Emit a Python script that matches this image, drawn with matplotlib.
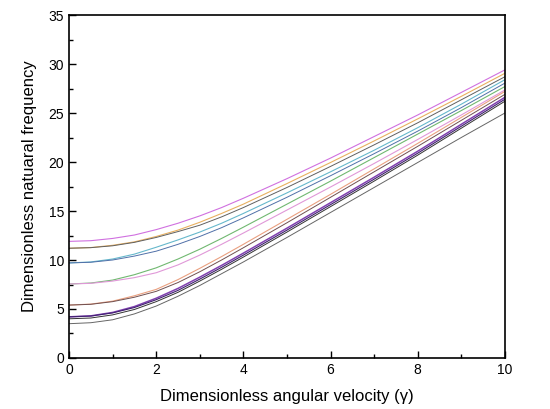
import matplotlib
matplotlib.use('Agg')
import matplotlib.pyplot as plt
from matplotlib.ticker import MultipleLocator

plt.rcParams['font.family'] = ['Liberation Sans', 'DejaVu Sans']

gamma = [0, 0.5, 1, 1.5, 2, 2.5, 3, 3.5, 4, 5, 6, 7, 8, 9, 10]

# natural frequency curves (top to bottom)
f_magenta = [11.9, 11.97, 12.2, 12.55, 13.1, 13.75, 14.5, 15.35, 16.3, 18.3, 20.4, 22.6, 24.8, 27.1, 29.4]
f_orange = [11.2, 11.27, 11.5, 11.85, 12.4, 13.05, 13.85, 14.75, 15.7, 17.8, 19.95, 22.15, 24.4, 26.7, 29.05]
f_darkgray = [11.2, 11.26, 11.45, 11.8, 12.3, 12.9, 13.55, 14.4, 15.35, 17.4, 19.55, 21.75, 24.0, 26.35, 28.7]
f_teal = [9.7, 9.8, 10.1, 10.6, 11.3, 12.05, 12.85, 13.75, 14.75, 16.85, 19.0, 21.2, 23.5, 25.9, 28.4]
f_navy = [9.7, 9.77, 10.0, 10.4, 10.9, 11.6, 12.4, 13.3, 14.3, 16.4, 18.6, 20.85, 23.15, 25.55, 28.05]
f_green = [7.55, 7.65, 7.95, 8.5, 9.2, 10.1, 11.1, 12.2, 13.35, 15.7, 18.05, 20.45, 22.85, 25.25, 27.7]
f_pink = [7.55, 7.62, 7.85, 8.2, 8.7, 9.5, 10.5, 11.6, 12.75, 15.1, 17.45, 19.85, 22.3, 24.8, 27.35]
f_salmon = [5.4, 5.5, 5.8, 6.35, 7.0, 8.0, 9.15, 10.35, 11.6, 14.15, 16.7, 19.3, 21.9, 24.55, 27.2]
f_brown = [5.4, 5.48, 5.75, 6.2, 6.8, 7.7, 8.8, 10.0, 11.25, 13.8, 16.4, 19.0, 21.6, 24.25, 26.9]
f_purple = [4.2, 4.3, 4.65, 5.25, 6.1, 7.1, 8.25, 9.45, 10.7, 13.25, 15.85, 18.45, 21.1, 23.85, 26.6]
f_indigo = [4.2, 4.28, 4.6, 5.15, 5.95, 6.9, 8.05, 9.25, 10.5, 13.05, 15.65, 18.25, 20.9, 23.65, 26.4]
f_black = [4.0, 4.08, 4.4, 4.95, 5.75, 6.7, 7.85, 9.05, 10.3, 12.85, 15.45, 18.05, 20.7, 23.45, 26.2]
f_gray = [3.5, 3.6, 3.9, 4.5, 5.3, 6.3, 7.4, 8.6, 9.8, 12.3, 14.85, 17.4, 19.95, 22.5, 25.0]

curves = [
    (f_magenta, '#d070e0', 0.8),
    (f_orange, '#e8b060', 0.8),
    (f_darkgray, '#606060', 0.7),
    (f_teal, '#66b8cc', 0.8),
    (f_navy, '#5070a8', 0.7),
    (f_green, '#70b870', 0.8),
    (f_pink, '#e098d8', 0.8),
    (f_salmon, '#eaa080', 0.8),
    (f_brown, '#705050', 0.7),
    (f_purple, '#8040b0', 1.1),
    (f_indigo, '#402070', 0.8),
    (f_black, '#333333', 0.7),
    (f_gray, '#666666', 0.7),
]

fig = plt.figure(figsize=(5.5, 4.09), dpi=100)
ax = fig.add_axes([0.1255, 0.1247, 0.7925, 0.8386])

for ys, color, lw in curves:
    ax.plot(gamma, ys, color=color, linewidth=lw)

ax.set_xlim(0, 10)
ax.set_ylim(0, 35)
ax.xaxis.set_major_locator(MultipleLocator(2))
ax.xaxis.set_minor_locator(MultipleLocator(1))
ax.yaxis.set_major_locator(MultipleLocator(5))
ax.yaxis.set_minor_locator(MultipleLocator(2.5))
ax.tick_params(which='both', direction='in', labelsize=10, width=1)
ax.tick_params(which='major', length=5)
ax.tick_params(which='minor', length=3)
for s in ax.spines.values():
    s.set_linewidth(1.2)

ax.set_xlabel('Dimensionless angular velocity (γ)', fontsize=12, labelpad=9)
ax.set_ylabel('Dimensionless natuaral frequency', fontsize=12, labelpad=8)

fig.savefig('out.png', dpi=100)
